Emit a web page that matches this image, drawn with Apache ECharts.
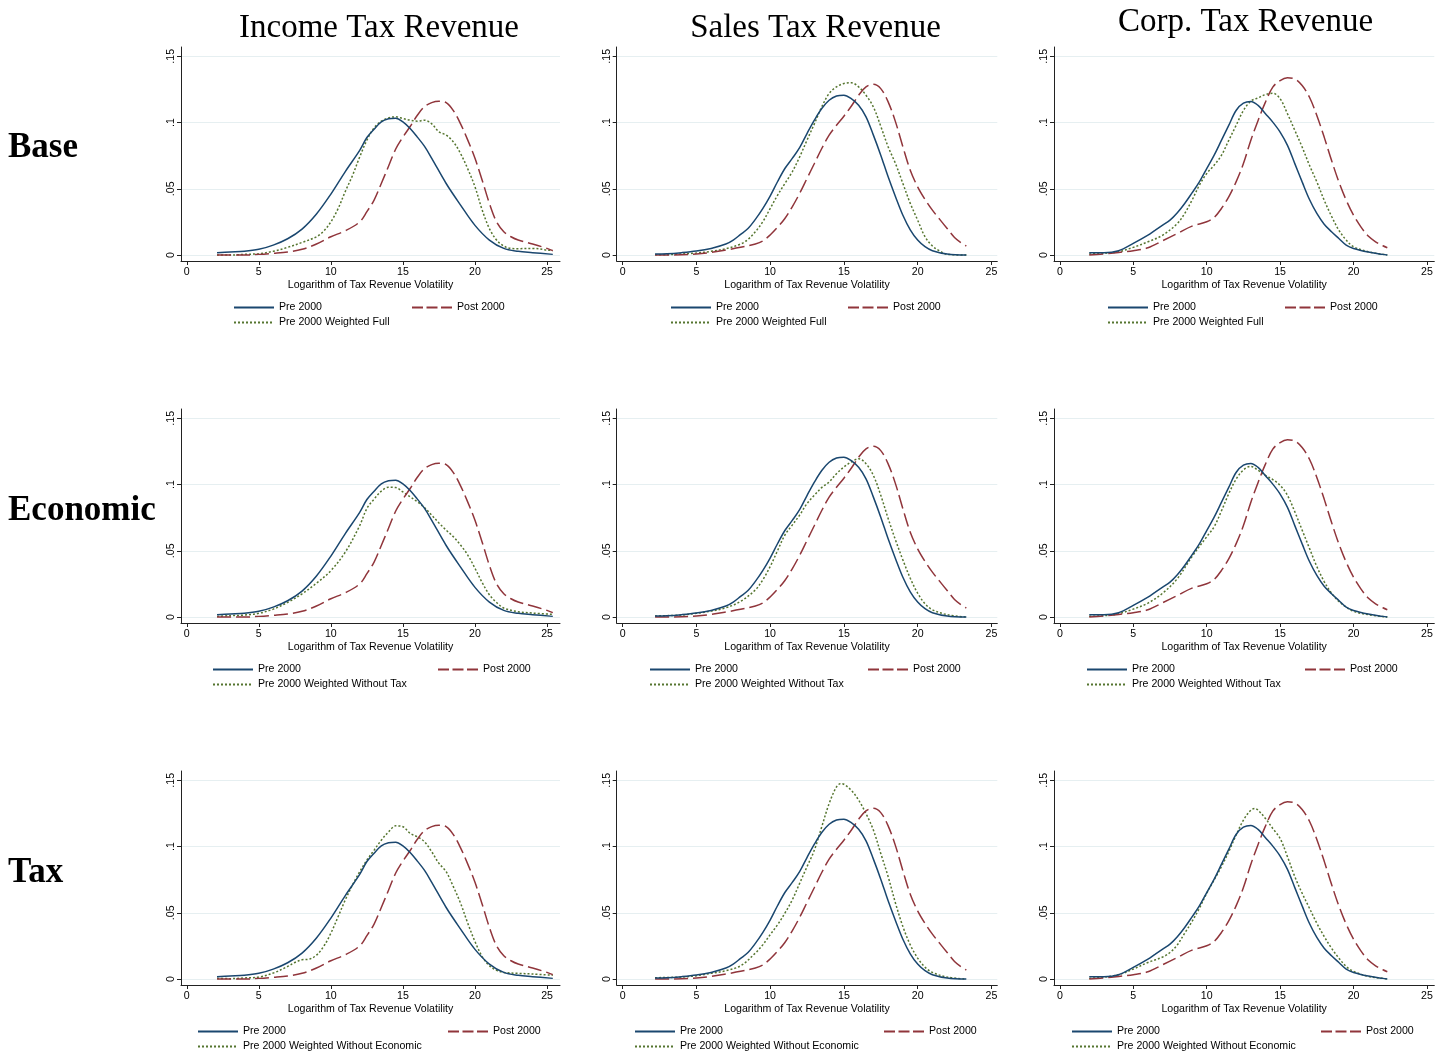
<!DOCTYPE html>
<html>
<head>
    <meta http-equiv="Content-Type" content="text/html; charset=utf-8" />
    <title>Tax Revenue Volatility densities</title>
    <script src="https://cdn.jsdelivr.net/npm/echarts@6.0.0/dist/echarts.min.js"></script>
</head>
<body style="margin:0;padding:0;background:#ffffff;">
    <div id="main" style="width:1446px;height:1055px;"></div>
    <script type="text/javascript">
        /*************************************************************
        * data (kernel density estimates)
        *************************************************************/
        var rowNames = ['Base', 'Economic', 'Tax'];
        var colNames = ['Income Tax Revenue', 'Sales Tax Revenue', 'Corp. Tax Revenue'];
        var preName = 'Pre 2000';
        var postName = 'Post 2000';
        var weightNames = ['Pre 2000 Weighted Full', 'Pre 2000 Weighted Without Tax', 'Pre 2000 Weighted Without Economic'];
        var xName = 'Logarithm of Tax Revenue Volatility';
        var xTicks = [0, 5, 10, 15, 20, 25];
        var yTicks = [0, 0.05, 0.1, 0.15];
        var yTickLabels = ['0', '.05', '.1', '.15'];

        // income tax
        var incomePre = [[2.1,.0018],[3,.0023],[4,.0028],[5,.0043],[6,.0075],[7,.0123],[8,.0196],[9,.031],[10,.046],[11,.063],[12,.079],[12.5,.0887],[13,.095],[13.5,.1005],[14,.1028],[14.5,.1033],[15,.1005],[15.5,.0955],[16,.089],[16.5,.082],[17,.073],[18,.054],[19,.0377],[20,.0224],[21,.0113],[22,.005],[23,.0028],[24,.0018],[25.4,.0005]];
        var incomePost = [[2.1,0],[3,0],[4,0],[5,.0005],[6,.0013],[7,.0023],[8,.0043],[9,.0083],[10,.0138],[11,.0183],[12,.025],[12.5,.0327],[13,.0415],[13.5,.054],[14,.067],[14.5,.08],[15,.089],[15.5,.097],[16,.1055],[16.5,.112],[17,.115],[17.5,.116],[18,.115],[18.5,.109],[19,.099],[19.5,.0867],[20,.073],[20.5,.0565],[21,.039],[21.5,.025],[22,.0176],[22.5,.0138],[23,.0113],[24,.0083],[25,.005],[25.4,.0033]];
        var incomeFull = [[2.1,0],[3,0],[4,.0005],[5,.001],[6,.0028],[7,.0058],[8,.0095],[9,.0138],[9.5,.018],[10,.025],[10.5,.035],[11,.048],[11.5,.06],[12,.074],[12.5,.0867],[13,.096],[13.5,.101],[14,.1035],[14.5,.1043],[15,.103],[15.5,.1018],[16,.101],[16.5,.1018],[17,.099],[17.5,.093],[18,.0905],[18.5,.0854],[19,.0766],[19.5,.065],[20,.0515],[20.5,.034],[21,.02],[21.5,.0113],[22,.0068],[22.5,.005],[23,.0048],[24,.005],[25,.0038],[25.4,.0033]];
        var incomeNoTax = [[2.1,.0005],[3,.001],[4,.0015],[5,.0028],[6,.006],[7,.011],[8,.0175],[9,.0255],[10,.035],[11,.049],[12,.069],[12.5,.082],[13,.089],[13.5,.095],[14,.098],[14.5,.0977],[15,.0944],[15.5,.0907],[16,.087],[16.5,.0826],[17,.0769],[17.5,.071],[18,.0656],[18.5,.0606],[19,.0543],[19.5,.0468],[20,.0368],[20.5,.026],[21,.0168],[21.5,.011],[22,.0068],[23,.004],[24,.003],[25.4,.002]];
        var incomeNoEcon = [[2.1,.0005],[3,.0003],[4,.0008],[5,.0015],[6,.0045],[7,.0095],[7.5,.0125],[8,.0145],[8.5,.015],[9,.018],[9.5,.0246],[10,.0346],[10.5,.047],[11,.0597],[11.5,.071],[12,.081],[12.5,.0898],[13,.0973],[13.5,.1048],[14,.111],[14.5,.1156],[15,.1149],[15.5,.11],[16,.1073],[16.5,.1036],[17,.096],[17.5,.0873],[18,.081],[18.5,.0697],[19,.0572],[19.5,.0421],[20,.0283],[20.5,.017],[21,.01],[21.5,.0065],[22,.005],[23,.0043],[24,.0038],[25.4,.0028]];

        // sales tax
        var salesPre = [[2.2,.0008],[3,.001],[4,.0018],[5,.003],[6,.005],[7,.0083],[7.5,.0113],[8,.0156],[8.5,.02],[9,.0269],[9.5,.035],[10,.0445],[10.5,.0553],[11,.0653],[11.5,.0729],[12,.081],[12.5,.0917],[13,.1018],[13.5,.1106],[14,.1168],[14.5,.12],[15,.1206],[15.5,.118],[16,.113],[16.5,.1043],[17,.0905],[17.5,.0754],[18,.059],[18.5,.044],[19,.03],[19.5,.019],[20,.0113],[20.5,.0063],[21,.0033],[22,.0008],[23.3,0]];
        var salesPost = [[2.2,0],[3,0],[4,.0003],[5,.0008],[6,.002],[7,.0038],[8,.0058],[9,.0083],[9.5,.0106],[10,.0151],[10.5,.0209],[11,.0276],[11.5,.0364],[12,.0465],[12.5,.0578],[13,.0691],[13.5,.0804],[14,.0905],[14.5,.098],[15,.1048],[15.5,.1123],[16,.1206],[16.5,.1269],[17,.1289],[17.5,.1256],[18,.1156],[18.5,.1005],[19,.0817],[19.5,.064],[20,.0515],[20.5,.042],[21,.0339],[21.5,.0269],[22,.02],[22.5,.0133],[23,.0088],[23.3,.0068]];
        var salesFull = [[2.2,.0003],[3,.0003],[4,.0008],[5,.0015],[6,.0028],[7,.0048],[8,.0083],[8.5,.0118],[9,.0176],[9.5,.025],[10,.035],[10.5,.045],[11,.054],[11.5,.0628],[12,.074],[12.5,.0867],[13,.099],[13.5,.1118],[14,.1219],[14.5,.1269],[15,.1294],[15.5,.13],[16,.1269],[16.5,.1206],[17,.1118],[17.5,.0972],[18,.0817],[18.5,.069],[19,.054],[19.5,.039],[20,.0264],[20.5,.0138],[21,.0068],[21.5,.003],[22,.0005],[23.3,0]];
        var salesNoTax = [[2.2,.0008],[4,.0015],[5,.0028],[6,.0045],[7,.007],[8,.0118],[9,.0205],[9.5,.028],[10,.038],[10.5,.05],[11,.0619],[11.5,.0694],[12,.0769],[12.5,.0856],[13,.0919],[13.5,.0977],[14,.1019],[14.5,.1082],[15,.1132],[15.5,.117],[16,.1195],[16.5,.1157],[17,.1069],[17.5,.0919],[18,.0744],[18.5,.0581],[19,.0431],[19.5,.0293],[20,.018],[20.5,.01],[21,.0055],[22,.0018],[23.3,0]];
        var salesNoEcon = [[2.2,.001],[4,.0015],[5,.0025],[6,.0043],[7,.0063],[8,.01],[9,.0196],[9.5,.0258],[10,.0334],[10.5,.0409],[11,.0497],[11.5,.0597],[12,.0722],[12.5,.0848],[13,.0973],[13.5,.1149],[14,.1324],[14.5,.145],[14.8,.1475],[15,.147],[15.5,.1425],[16,.135],[16.5,.1249],[17,.1124],[17.5,.0948],[18,.0773],[18.5,.0572],[19,.0396],[19.5,.0258],[20,.0158],[20.5,.009],[21,.005],[22,.0015],[23.3,0]];

        // corporate tax
        var corpPre = [[2,.0018],[3,.0018],[4,.0033],[5,.0088],[6,.015],[6.5,.0188],[7,.0226],[7.5,.0263],[8,.0319],[8.5,.0389],[9,.0469],[9.5,.0552],[10,.0652],[10.5,.0752],[11,.0865],[11.5,.0978],[12,.1091],[12.5,.1146],[13,.1159],[13.5,.1129],[14,.1066],[14.5,.1003],[15,.0928],[15.5,.0828],[16,.069],[16.5,.0552],[17,.0419],[17.5,.0314],[18,.0233],[18.5,.0176],[19,.0125],[19.5,.0075],[20,.005],[21,.0023],[22,.0005],[22.3,0]];
        var corpPost = [[2,0],[3,.0008],[4,.002],[5,.0033],[6,.0055],[7,.0108],[8,.0163],[9,.0218],[10,.0251],[10.5,.0283],[11,.0351],[11.5,.0439],[12,.0552],[12.5,.069],[13,.0865],[13.5,.1016],[14,.1154],[14.5,.1267],[15,.1317],[15.5,.1337],[16,.1329],[16.5,.1279],[17,.1191],[17.5,.1053],[18,.089],[18.5,.0715],[19,.0552],[19.5,.0414],[20,.0301],[20.5,.0213],[21,.0143],[21.5,.01],[22,.007],[22.3,.0055]];
        var corpFull = [[2,.0008],[3,.0013],[4,.0025],[5,.0058],[6,.01],[7,.015],[8,.0238],[8.5,.0314],[9,.0414],[9.5,.0527],[10,.0615],[10.5,.0677],[11,.0752],[11.5,.0865],[12,.0978],[12.5,.1091],[13,.1161],[13.5,.1186],[14,.1211],[14.5,.1221],[15,.1179],[15.5,.1066],[16,.0941],[16.5,.0815],[17,.0677],[17.5,.0552],[18,.0414],[18.5,.0293],[19,.0188],[19.5,.0113],[20,.0063],[21,.0025],[22,.0005],[22.3,0]];
        var corpNoTax = [[2,.0005],[3,.001],[4,.0025],[5,.006],[6,.0105],[7,.018],[8,.029],[9,.0456],[10,.0606],[10.5,.068],[11,.08],[11.5,.093],[12,.104],[12.5,.111],[13,.1137],[13.5,.1107],[14,.1069],[14.5,.1037],[15,.0994],[15.5,.0919],[16,.0794],[16.5,.0656],[17,.0518],[17.5,.0381],[18,.0268],[18.5,.018],[19,.0118],[19.5,.0075],[20,.0043],[21,.0018],[22.3,0]];
        var corpNoEcon = [[2,.0005],[3,.0015],[4,.0033],[5,.0075],[6,.0125],[7,.0166],[7.5,.02],[8,.0258],[8.5,.0346],[9,.0434],[9.5,.0534],[10,.0647],[10.5,.0747],[11,.0848],[11.5,.0961],[12,.1086],[12.5,.1199],[13,.1274],[13.3,.1287],[13.5,.1274],[14,.1212],[14.5,.1136],[15,.1061],[15.5,.0923],[16,.0773],[16.5,.0647],[17,.0534],[17.5,.0421],[18,.0321],[18.5,.0233],[19,.0158],[19.5,.0095],[20,.0058],[21,.002],[22,.0005],[22.3,0]];

        var preData = [incomePre, salesPre, corpPre];
        var postData = [incomePost, salesPost, corpPost];
        var weightedData = [
            [incomeFull, salesFull, corpFull],
            [incomeNoTax, salesNoTax, corpNoTax],
            [incomeNoEcon, salesNoEcon, corpNoEcon]
        ];

        /*************************************************************
        * layout
        *************************************************************/
        var colLeft = [181, 616.7, 1054];
        var colWidth = [379, 380.6, 380.3];
        var colMax = [25.9, 25.4, 25.5];
        var rowTop = [47, 409, 771];
        var gridHeight = 214;
        var legendPreLeft = [[233, 670, 1107], [212, 649, 1086], [197, 634, 1071]];
        var legendPostLeft = [[411, 847, 1284], [437, 867, 1304], [447, 883, 1320]];
        var colTitlePos = [[379, 28], [815.5, 28], [1245.5, 22]];
        var rowTitleY = [148, 511, 873];

        var sansFont = "'Liberation Sans', Arial, sans-serif";
        var serifFont = "'Liberation Serif', 'Times New Roman', serif";
        var smallSize = 10.6;
        var axisColor = '#222222';
        var navy = '#1a476f', maroon = '#90353b', green = '#55752f';

        function yLabel(v) {
            for (var i = 0; i < yTicks.length; i++)
                if (Math.abs(yTicks[i] - v) < 1e-9) return yTickLabels[i];
            return '';
        }

        var grids = [], xAxes = [], yAxes = [], series = [], legends = [], texts = [];

        for (var r = 0; r < 3; r++) {
            for (var c = 0; c < 3; c++) {
                var idx = r * 3 + c;
                var zeroY = rowTop[r] + 208;
                grids.push({ left: colLeft[c], top: rowTop[r], width: colWidth[c], height: gridHeight });
                xAxes.push({
                    type: 'value', gridIndex: idx, min: -0.4, max: colMax[c],
                    name: xName, nameLocation: 'middle', nameGap: 19,
                    nameTextStyle: { fontSize: smallSize, color: '#000', fontFamily: sansFont },
                    axisLine: { show: true, onZero: false, lineStyle: { color: axisColor, width: 1 } },
                    axisTick: { show: true, length: 4, customValues: xTicks, lineStyle: { color: axisColor } },
                    axisLabel: { customValues: xTicks, margin: 6, fontSize: smallSize, color: '#000', fontFamily: sansFont },
                    splitLine: { show: false }
                });
                yAxes.push({
                    type: 'value', gridIndex: idx, min: -0.0045, max: 0.157,
                    axisLine: { show: true, onZero: false, lineStyle: { color: axisColor, width: 1 } },
                    axisTick: { show: true, length: 4, customValues: yTicks, lineStyle: { color: axisColor } },
                    axisLabel: { customValues: yTicks, rotate: 90, margin: 4, fontSize: smallSize, color: '#000',
                        fontFamily: sansFont, formatter: yLabel },
                    splitLine: { show: true, lineStyle: { color: '#e6eff1', width: 1 } }
                });

                series.push({
                    type: 'line', name: weightNames[r], xAxisIndex: idx, yAxisIndex: idx,
                    data: weightedData[r][c], symbol: 'none', smooth: 0.35, z: 2,
                    itemStyle: { color: green }, lineStyle: { color: green, width: 1.5, type: [2, 2] }
                });
                series.push({
                    type: 'line', name: postName, xAxisIndex: idx, yAxisIndex: idx,
                    data: postData[c], symbol: 'none', smooth: 0.35, z: 3,
                    itemStyle: { color: maroon }, lineStyle: { color: maroon, width: 1.5, type: [14, 5] }
                });
                series.push({
                    type: 'line', name: preName, xAxisIndex: idx, yAxisIndex: idx,
                    data: preData[c], symbol: 'none', smooth: 0.35, z: 4,
                    itemStyle: { color: navy }, lineStyle: { color: navy, width: 1.5 }
                });

                // legend: line only, the marker is hidden
                var legendBase = {
                    padding: 0, itemWidth: 40, itemHeight: 12, selectedMode: false, orient: 'horizontal',
                    itemStyle: { opacity: 0 },
                    textStyle: { fontSize: smallSize, color: '#000', fontFamily: sansFont }
                };
                legends.push(Object.assign({}, legendBase, { data: [preName], left: legendPreLeft[r][c], top: zeroY + 53 - 6 }));
                legends.push(Object.assign({}, legendBase, { data: [postName], left: legendPostLeft[r][c], top: zeroY + 53 - 6,
                    lineStyle: { type: [11, 3.5] } }));
                legends.push(Object.assign({}, legendBase, { data: [weightNames[r]], left: legendPreLeft[r][c], top: zeroY + 68 - 6 }));
            }
        }

        // column and row headings
        for (var k = 0; k < 3; k++) {
            texts.push({
                type: 'text', silent: true,
                style: { text: colNames[k], x: colTitlePos[k][0], y: colTitlePos[k][1], fill: '#000',
                    font: "33px " + serifFont, align: 'center', verticalAlign: 'middle',
                    textAlign: 'center', textVerticalAlign: 'middle' }
            });
            texts.push({
                type: 'text', silent: true,
                style: { text: rowNames[k], x: 8, y: rowTitleY[k], fill: '#000',
                    font: "bold 35px " + serifFont, align: 'left', verticalAlign: 'middle',
                    textAlign: 'left', textVerticalAlign: 'middle' }
            });
        }

        var chart = echarts.init(document.getElementById('main'));
        chart.setOption({
            backgroundColor: '#ffffff',
            animation: false,
            grid: grids,
            xAxis: xAxes,
            yAxis: yAxes,
            legend: legends,
            series: series,
            graphic: texts
        });
    </script>
</body>
</html>
